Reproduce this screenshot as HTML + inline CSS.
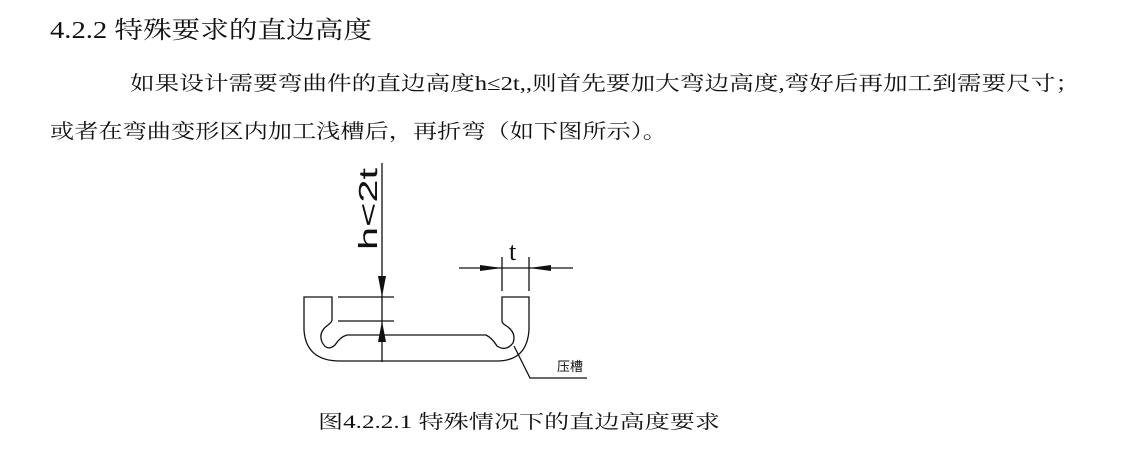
<!DOCTYPE html>
<html><head><meta charset="utf-8"><style>
html,body{margin:0;padding:0;background:#fff;width:1134px;height:454px;overflow:hidden}
text{font-family:"Liberation Serif","Noto Serif CJK SC",serif;fill:#111}
</style></head><body>
<svg width="1134" height="454" viewBox="0 0 1134 454" xmlns="http://www.w3.org/2000/svg">
<text x="50" y="38" font-size="24" textLength="322" lengthAdjust="spacingAndGlyphs">4.2.2 特殊要求的直边高度</text>
<text x="130" y="90" font-size="20" textLength="950" lengthAdjust="spacingAndGlyphs">如果设计需要弯曲件的直边高度h≤2t,,则首先要加大弯边高度,弯好后再加工到需要尺寸；</text>
<text x="50" y="138" font-size="20" textLength="617" lengthAdjust="spacingAndGlyphs">或者在弯曲变形区内加工浅槽后，再折弯（如下图所示）。</text>
<g stroke="#111" stroke-width="1.3" fill="none">
<line x1="382" y1="163" x2="382" y2="362"/>
<line x1="338" y1="297" x2="394" y2="297"/>
<line x1="338" y1="321" x2="394" y2="321"/>
<path d="M304 297 V330 Q306 361 340 361 H497 Q527 361 529 330 V297 H502 V321 Q502 323 505 325 Q517 332 513 343 Q506 352 497 346 Q492 338 486 335 H347 Q340 337 335 345 Q327 352 322 342 Q318 332 328 325 Q332 322 332 320 V297 Z"/>
<line x1="459" y1="268" x2="573" y2="268"/>
<line x1="502" y1="257" x2="502" y2="291"/>
<line x1="529" y1="257" x2="529" y2="291"/>
<polyline points="514,346 530,378 587,378"/>
</g>
<g fill="#111">
<polygon points="378,276 386,276 382,297"/>
<polygon points="378,342 386,342 382,321"/>
<polygon points="480,265 480,271 502,268"/>
<polygon points="551,265 551,271 529,268"/>
</g>
<text font-size="26" transform="translate(377,250) rotate(-90)" textLength="82" lengthAdjust="spacingAndGlyphs" style="font-family:'Liberation Sans',sans-serif;font-weight:normal">h&lt;2t</text>
<text x="509" y="260" font-size="26">t</text>
<text x="557" y="371" font-size="13" style="font-family:'Liberation Sans','Noto Sans CJK SC',sans-serif">压槽</text>
<text x="318" y="428" font-size="19" textLength="402" lengthAdjust="spacingAndGlyphs">图4.2.2.1 特殊情况下的直边高度要求</text>
</svg>
</body></html>
